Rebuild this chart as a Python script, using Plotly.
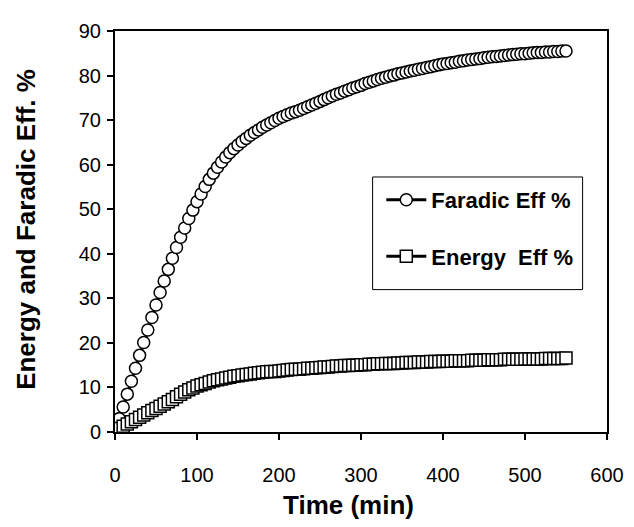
import plotly.graph_objects as go

time_min = [0, 5, 10, 15, 20, 25, 30, 35, 40, 45, 50, 55, 60, 65, 70, 75, 80, 85, 90, 95,
            100, 105, 110, 115, 120, 125, 130, 135, 140, 145, 150, 155, 160, 165, 170, 175,
            180, 185, 190, 195, 200, 205, 210, 215, 220, 225, 230, 235, 240, 245, 250, 255,
            260, 265, 270, 275, 280, 285, 290, 295, 300, 305, 310, 315, 320, 325, 330, 335,
            340, 345, 350, 355, 360, 365, 370, 375, 380, 385, 390, 395, 400, 405, 410, 415,
            420, 425, 430, 435, 440, 445, 450, 455, 460, 465, 470, 475, 480, 485, 490, 495,
            500, 505, 510, 515, 520, 525, 530, 535, 540, 545, 550]

faradic_eff = [0.6, 3.0, 5.6, 8.5, 11.4, 14.3, 17.2, 20.1, 22.9, 25.7, 28.5, 31.3, 33.9, 36.5,
               39.0, 41.4, 43.7, 45.8, 47.9, 49.8, 51.7, 53.4, 55.1, 56.7, 58.1, 59.4, 60.6,
               61.7, 62.7, 63.6, 64.4, 65.2, 65.9, 66.6, 67.2, 67.8, 68.4, 68.9, 69.4, 69.9,
               70.4, 70.8, 71.2, 71.6, 71.9, 72.2, 72.6, 73.0, 73.4, 73.8, 74.2, 74.6, 75.0,
               75.4, 75.8, 76.1, 76.5, 76.8, 77.2, 77.5, 77.8, 78.2, 78.5, 78.8, 79.1, 79.4,
               79.6, 79.9, 80.1, 80.4, 80.6, 80.8, 81.0, 81.2, 81.4, 81.6, 81.8, 82.0, 82.2,
               82.4, 82.6, 82.7, 82.9, 83.0, 83.2, 83.3, 83.5, 83.6, 83.7, 83.8, 84.0, 84.1,
               84.2, 84.3, 84.4, 84.5, 84.6, 84.7, 84.8, 84.9, 84.9, 85.0, 85.1, 85.2, 85.2,
               85.3, 85.3, 85.4, 85.4, 85.5, 85.5]

energy_eff = [0.3, 0.8, 1.3, 1.8, 2.3, 2.8, 3.3, 3.8, 4.3, 4.8, 5.3, 5.8, 6.3, 6.8, 7.3, 7.9,
              8.5, 9.0, 9.5, 9.9, 10.3, 10.6, 10.9, 11.2, 11.5, 11.7, 11.9, 12.1, 12.3, 12.5,
              12.6, 12.8, 12.9, 13.0, 13.2, 13.3, 13.4, 13.5, 13.6, 13.6, 13.7, 13.8, 13.9,
              14.0, 14.1, 14.1, 14.2, 14.3, 14.3, 14.4, 14.5, 14.6, 14.6, 14.7, 14.8, 14.8,
              14.9, 14.9, 15.0, 15.0, 15.1, 15.1, 15.2, 15.2, 15.3, 15.3, 15.4, 15.4, 15.4,
              15.5, 15.5, 15.6, 15.6, 15.6, 15.7, 15.7, 15.7, 15.8, 15.8, 15.8, 15.9, 15.9,
              15.9, 16.0, 16.0, 16.0, 16.0, 16.1, 16.1, 16.1, 16.1, 16.2, 16.2, 16.2, 16.2,
              16.3, 16.3, 16.3, 16.3, 16.3, 16.4, 16.4, 16.4, 16.4, 16.4, 16.5, 16.5, 16.5,
              16.5, 16.5, 16.6]

x_ticks = [0, 100, 200, 300, 400, 500, 600]
y_ticks = [0, 10, 20, 30, 40, 50, 60, 70, 80, 90]

FONT = "Arial, Liberation Sans, sans-serif"

# screen geometry of the plot area (page has an 8px body margin)
OFF = 8
PL, PR, PT, PB = 114.7, 606.7, 20.0, 432.0
PW, PH = PR - PL, PB - PT


def px(xs):
    return (xs - PL) / PW


def py(ys):
    return (PB - ys) / PH


fig = go.Figure()
fig.add_trace(go.Scatter(
    x=time_min, y=faradic_eff, name="Faradic Eff %", mode="lines+markers",
    line=dict(color="black", width=3),
    marker=dict(symbol="circle", size=12, color="white", line=dict(color="black", width=1.5)),
    legendgroup="a",
))
fig.add_trace(go.Scatter(
    x=time_min, y=energy_eff, name="Energy  Eff %", mode="lines+markers",
    line=dict(color="black", width=3),
    marker=dict(symbol="square", size=12, color="white", line=dict(color="black", width=1.5)),
    legendgroup="b",
))

fig.update_layout(
    width=634, height=527,
    margin=dict(l=PL - OFF, r=634 - (PR - OFF), t=PT - OFF, b=527 - (PB - OFF)),
    paper_bgcolor="white", plot_bgcolor="white",
    font=dict(family=FONT, color="black", size=20),
    showlegend=True,
    legend=dict(
        x=px(381), y=py(172), xanchor="left", yanchor="top",
        borderwidth=0, bgcolor="rgba(0,0,0,0)",
        font=dict(family=FONT, size=22, color="black", weight="bold"),
        tracegroupgap=25, traceorder="grouped", itemwidth=40,
    ),
    shapes=[
        dict(type="rect", xref="paper", yref="paper",
             x0=px(372.3), x1=px(582.3), y0=py(285.7), y1=py(170),
             line=dict(color="black", width=1), fillcolor="white", layer="above"),
    ],
    xaxis=dict(
        range=[0, 600], tickvals=x_ticks, ticks="outside", ticklen=6, tickwidth=1.5,
        tickcolor="black", showline=True, linecolor="black", linewidth=2, mirror=True,
        showgrid=False, zeroline=False, tickfont=dict(size=20),
        ticklabelstandoff=18,
    ),
    yaxis=dict(
        range=[0, 90], tickvals=y_ticks, ticks="outside", ticklen=6, tickwidth=1.5,
        tickcolor="black", showline=True, linecolor="black", linewidth=2, mirror=True,
        showgrid=False, zeroline=False, tickfont=dict(size=20),
        ticklabelstandoff=2,
    ),
    annotations=[
        dict(text="<b>Time (min)</b>", xref="paper", yref="paper",
             x=px(348), y=py(507), xanchor="center", yanchor="middle",
             showarrow=False, font=dict(size=26, family=FONT)),
        dict(text="<b>Energy and Faradic Eff. %</b>", xref="paper", yref="paper",
             x=px(25), y=py(224), xanchor="center", yanchor="middle", textangle=-90,
             showarrow=False, font=dict(size=26, family=FONT)),
    ],
)

fig.write_html("out.html")
